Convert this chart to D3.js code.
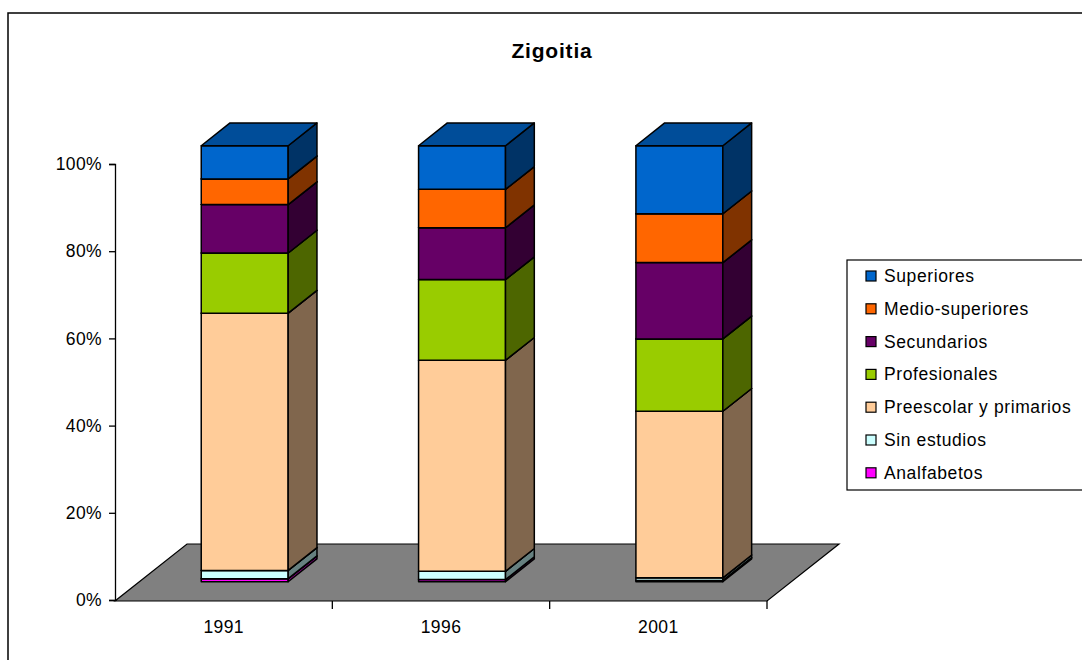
<!DOCTYPE html>
<html>
<head>
<meta charset="utf-8">
<script src="https://cdn.jsdelivr.net/npm/d3@7"></script>
<style>
  body { margin: 0; background: #fff; }
  text { font-family: "Liberation Sans", Arial, sans-serif; }
</style>
</head>
<body>
<svg id="chart" width="1082" height="660"></svg>
<script>
// data (percent of each year)
var years = ["1991", "1996", "2001"];
var analfabetos   = [0.7, 0.5, 0.3];
var sinEstudios   = [1.9, 1.9, 0.6];
var preescolar    = [59.0, 48.4, 38.2];
var profesionales = [13.8, 18.5, 16.6];
var secundarios   = [11.1, 11.9, 17.5];
var medioSup      = [5.9, 8.8, 11.2];
var superiores    = [7.6, 10.0, 15.6];
var yTicks = [0, 0.2, 0.4, 0.6, 0.8, 1];

var series = [
	{ key: "Analfabetos", values: analfabetos, color: "#FF00FF" },
	{ key: "Sin estudios", values: sinEstudios, color: "#CCFFFF" },
	{ key: "Preescolar y primarios", values: preescolar, color: "#FFCC99" },
	{ key: "Profesionales", values: profesionales, color: "#99CC00" },
	{ key: "Secundarios", values: secundarios, color: "#660066" },
	{ key: "Medio-superiores", values: medioSup, color: "#FF6600" },
	{ key: "Superiores", values: superiores, color: "#0066CC" }
];

var rows = years.map(function(y, i) {
	var r = { year: y };
	series.forEach(function(s) { r[s.key] = s.values[i]; });
	return r;
});

var stacked = d3.stack()
	.keys(series.map(function(s) { return s.key; }))
	.offset(d3.stackOffsetExpand)(rows);

var svg = d3.select("#chart");

// chart frame
svg.append("rect").attr("x", 8).attr("y", 13).attr("width", 1100).attr("height", 700)
	.attr("fill", "none").attr("stroke", "#000").attr("stroke-width", 1.5);

var x = d3.scaleBand().domain(years).range([115, 767]).paddingInner(0.6).paddingOuter(0.3);
var y = d3.scaleLinear().domain([0, 1]).range([600, 164]);

// depth of the floor and where the bars sit inside it
var floorDx = 72, floorDy = -57;
var f1 = 0.32, f2 = 0.72;
var bx = floorDx * f1 - 2, by = floorDy * f1;           // front plane of bars
var dx = floorDx * (f2 - f1), dy = floorDy * (f2 - f1); // bar depth

function shade(c, k) {
	var col = d3.rgb(c);
	return d3.rgb(col.r * k, col.g * k, col.b * k).formatHex();
}

var fontSize = 17.5;

// y axis
var yAxis = svg.append("g").attr("transform", "translate(115,0)")
	.call(d3.axisLeft(y).tickValues(yTicks).tickFormat(d3.format(".0%")).tickSize(6).tickPadding(7));
yAxis.select(".domain").attr("stroke", "#000").attr("stroke-width", 1.3);
yAxis.selectAll(".tick line").attr("stroke", "#000").attr("stroke-width", 1.3);
yAxis.selectAll(".tick text").attr("font-size", fontSize).attr("fill", "#000")
	.attr("letter-spacing", "0.4px")
	.attr("font-family", "'Liberation Sans', Arial, sans-serif");

// floor
var x0 = x.range()[0], x1 = x.range()[1], yb = y(0) + 1;
svg.append("polygon")
	.attr("points", [[x0, yb], [x1, yb], [x1 + floorDx, yb + floorDy], [x0 + floorDx, yb + floorDy]].join(" "))
	.attr("fill", "#808080").attr("stroke", "#000").attr("stroke-width", 1.2);

// x axis ticks at category boundaries
years.forEach(function(yr, i) {
	var tx = x0 + i * x.step();
	if (i > 0) {
		svg.append("line").attr("x1", tx).attr("x2", tx).attr("y1", yb).attr("y2", yb + 8)
			.attr("stroke", "#000").attr("stroke-width", 1.3);
	}
	svg.append("text").attr("x", x(yr) + x.bandwidth() / 2).attr("y", yb + 32)
		.attr("text-anchor", "middle").attr("font-size", fontSize).attr("letter-spacing", "0.4px")
		.text(yr);
});
svg.append("line").attr("x1", x1).attr("x2", x1).attr("y1", yb).attr("y2", yb + 8)
	.attr("stroke", "#000").attr("stroke-width", 1.3);

// bars, bottom segment first so each top face is covered by the next one
var bars = svg.append("g").attr("transform", "translate(" + bx + "," + by + ")");
years.forEach(function(yr, i) {
	var left = x(yr), right = x(yr) + x.bandwidth();
	stacked.forEach(function(layer, j) {
		var s = series[j];
		var lo = y(layer[i][0]), hi = y(layer[i][1]);
		var g = bars.append("g").attr("stroke", "#000").attr("stroke-width", 1.5).attr("stroke-linejoin", "round");
		g.append("rect").attr("x", left).attr("y", hi).attr("width", right - left).attr("height", lo - hi)
			.attr("fill", s.color);
		g.append("polygon")
			.attr("points", [[right, lo], [right + dx, lo + dy], [right + dx, hi + dy], [right, hi]].join(" "))
			.attr("fill", shade(s.color, 0.5));
		g.append("polygon")
			.attr("points", [[left, hi], [left + dx, hi + dy], [right + dx, hi + dy], [right, hi]].join(" "))
			.attr("fill", shade(s.color, 0.75));
	});
});

// title
svg.append("text").attr("x", 552).attr("y", 58).attr("text-anchor", "middle")
	.attr("font-size", 21).attr("font-weight", "bold").attr("letter-spacing", "0.8px")
	.text("Zigoitia");

// legend
var legend = svg.append("g");
legend.append("rect").attr("x", 847).attr("y", 260).attr("width", 260).attr("height", 230)
	.attr("fill", "#fff").attr("stroke", "#000").attr("stroke-width", 1.2);
series.slice().reverse().forEach(function(s, i) {
	var cy = 276 + i * 32.8;
	legend.append("rect").attr("x", 866).attr("y", cy - 5).attr("width", 10).attr("height", 10)
		.attr("fill", s.color).attr("stroke", "#000").attr("stroke-width", 1.2);
	legend.append("text").attr("x", 884).attr("y", cy + 6).attr("font-size", fontSize)
		.attr("letter-spacing", "0.6px").text(s.key);
});
</script>
</body>
</html>
